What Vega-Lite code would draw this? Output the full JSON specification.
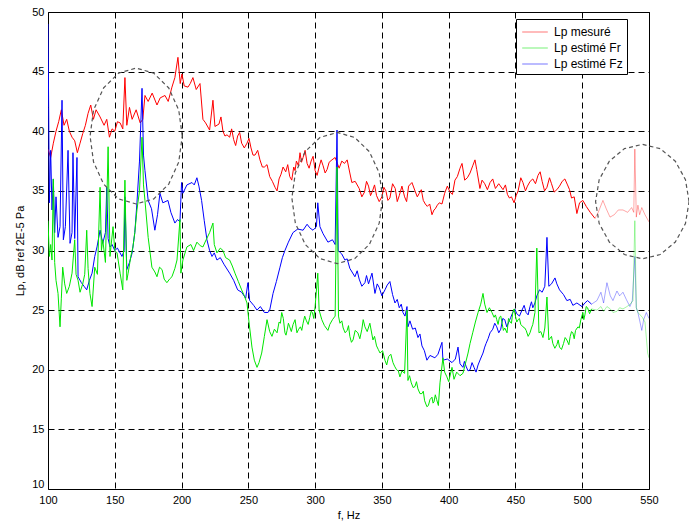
{
"$schema":"https://vega.github.io/schema/vega-lite/v6.json",
"width":601,"height":477,
"autosize":{"type":"none"},
"padding":{"left":48,"top":12,"right":40,"bottom":33},
"datasets":{
"lp":[
{"s":"Lp mesuré","f":100,"v":38.5},{"s":"Lp mesuré","f":102,"v":37.8},{"s":"Lp mesuré","f":104,"v":39},{"s":"Lp mesuré","f":106,"v":40},{"s":"Lp mesuré","f":108,"v":40.8},{"s":"Lp mesuré","f":110,"v":41.8},{"s":"Lp mesuré","f":112,"v":40.5},{"s":"Lp mesuré","f":114,"v":41},{"s":"Lp mesuré","f":116,"v":40},{"s":"Lp mesuré","f":118,"v":39.5},{"s":"Lp mesuré","f":120,"v":39.2},{"s":"Lp mesuré","f":122,"v":38.2},{"s":"Lp mesuré","f":124,"v":39},{"s":"Lp mesuré","f":126,"v":39.8},{"s":"Lp mesuré","f":128,"v":40.5},{"s":"Lp mesuré","f":130,"v":41.5},{"s":"Lp mesuré","f":132,"v":42.2},{"s":"Lp mesuré","f":134,"v":41},{"s":"Lp mesuré","f":136,"v":41.8},{"s":"Lp mesuré","f":139,"v":41.2},{"s":"Lp mesuré","f":142,"v":40.5},{"s":"Lp mesuré","f":144,"v":41},{"s":"Lp mesuré","f":146,"v":39.5},{"s":"Lp mesuré","f":148,"v":40.2},{"s":"Lp mesuré","f":150,"v":40},{"s":"Lp mesuré","f":152,"v":40.8},{"s":"Lp mesuré","f":154,"v":40.7},{"s":"Lp mesuré","f":156,"v":40.2},{"s":"Lp mesuré","f":157.6,"v":44.5},{"s":"Lp mesuré","f":159,"v":40.5},{"s":"Lp mesuré","f":161,"v":42},{"s":"Lp mesuré","f":163,"v":41},{"s":"Lp mesuré","f":166,"v":41.8},{"s":"Lp mesuré","f":169,"v":40.7},{"s":"Lp mesuré","f":171,"v":41},{"s":"Lp mesuré","f":172.6,"v":43},{"s":"Lp mesuré","f":175,"v":42.5},{"s":"Lp mesuré","f":178,"v":43.2},{"s":"Lp mesuré","f":181.6,"v":42.2},{"s":"Lp mesuré","f":184,"v":42.8},{"s":"Lp mesuré","f":187.6,"v":43},{"s":"Lp mesuré","f":190,"v":42.5},{"s":"Lp mesuré","f":192.8,"v":43.7},{"s":"Lp mesuré","f":195,"v":44.5},{"s":"Lp mesuré","f":197.3,"v":46.2},{"s":"Lp mesuré","f":199,"v":44},{"s":"Lp mesuré","f":200.3,"v":44.8},{"s":"Lp mesuré","f":202,"v":43.8},{"s":"Lp mesuré","f":204.8,"v":43.7},{"s":"Lp mesuré","f":206.5,"v":44},{"s":"Lp mesuré","f":208.5,"v":44.5},{"s":"Lp mesuré","f":211,"v":43.5},{"s":"Lp mesuré","f":213.8,"v":44},{"s":"Lp mesuré","f":216,"v":41},{"s":"Lp mesuré","f":218,"v":40.7},{"s":"Lp mesuré","f":221,"v":40.1},{"s":"Lp mesuré","f":223.5,"v":42.6},{"s":"Lp mesuré","f":225,"v":40.4},{"s":"Lp mesuré","f":228,"v":40.6},{"s":"Lp mesuré","f":231,"v":40},{"s":"Lp mesuré","f":234,"v":39.7},{"s":"Lp mesuré","f":236,"v":39.5},{"s":"Lp mesuré","f":239,"v":39.3},{"s":"Lp mesuré","f":242,"v":39.6},{"s":"Lp mesuré","f":245,"v":39},{"s":"Lp mesuré","f":249,"v":39},{"s":"Lp mesuré","f":252,"v":38.6},{"s":"Lp mesuré","f":255,"v":38},{"s":"Lp mesuré","f":258.7,"v":37.6},{"s":"Lp mesuré","f":262,"v":37},{"s":"Lp mesuré","f":266,"v":36.2},{"s":"Lp mesuré","f":268,"v":35.8},{"s":"Lp mesuré","f":270,"v":35.3},{"s":"Lp mesuré","f":273,"v":36},{"s":"Lp mesuré","f":276,"v":37},{"s":"Lp mesuré","f":278,"v":36.6},{"s":"Lp mesuré","f":281,"v":36.2},{"s":"Lp mesuré","f":284,"v":37},{"s":"Lp mesuré","f":286,"v":37.5},{"s":"Lp mesuré","f":288.7,"v":38.2},{"s":"Lp mesuré","f":291,"v":37.8},{"s":"Lp mesuré","f":294,"v":37.3},{"s":"Lp mesuré","f":297,"v":37.5},{"s":"Lp mesuré","f":300,"v":36.7},{"s":"Lp mesuré","f":303,"v":37},{"s":"Lp mesuré","f":306,"v":37.1},{"s":"Lp mesuré","f":309,"v":36.8},{"s":"Lp mesuré","f":312.6,"v":37.6},{"s":"Lp mesuré","f":315,"v":37.8},{"s":"Lp mesuré","f":318,"v":36.9},{"s":"Lp mesuré","f":320,"v":37.5},{"s":"Lp mesuré","f":322,"v":37.3},{"s":"Lp mesuré","f":324,"v":37.6},{"s":"Lp mesuré","f":326,"v":36.5},{"s":"Lp mesuré","f":327.5,"v":35.7},{"s":"Lp mesuré","f":330,"v":35.8},{"s":"Lp mesuré","f":333,"v":35.2},{"s":"Lp mesuré","f":337,"v":34.9},{"s":"Lp mesuré","f":340,"v":35.4},{"s":"Lp mesuré","f":343,"v":35},{"s":"Lp mesuré","f":346,"v":34.6},{"s":"Lp mesuré","f":350,"v":34.5},{"s":"Lp mesuré","f":353,"v":35},{"s":"Lp mesuré","f":356,"v":34.4},{"s":"Lp mesuré","f":360,"v":35.2},{"s":"Lp mesuré","f":363,"v":34.6},{"s":"Lp mesuré","f":367,"v":34.5},{"s":"Lp mesuré","f":370,"v":35.4},{"s":"Lp mesuré","f":374.8,"v":35},{"s":"Lp mesuré","f":378,"v":34.8},{"s":"Lp mesuré","f":381,"v":34.2},{"s":"Lp mesuré","f":384,"v":33.7},{"s":"Lp mesuré","f":387.5,"v":33},{"s":"Lp mesuré","f":390,"v":33.5},{"s":"Lp mesuré","f":393,"v":34},{"s":"Lp mesuré","f":397,"v":34.8},{"s":"Lp mesuré","f":401,"v":34.9},{"s":"Lp mesuré","f":404.7,"v":35.9},{"s":"Lp mesuré","f":408.5,"v":36.9},{"s":"Lp mesuré","f":412,"v":35.9},{"s":"Lp mesuré","f":416,"v":36.5},{"s":"Lp mesuré","f":419.7,"v":37.6},{"s":"Lp mesuré","f":421,"v":36.8},{"s":"Lp mesuré","f":423.4,"v":35.2},{"s":"Lp mesuré","f":427,"v":35.6},{"s":"Lp mesuré","f":431,"v":35.7},{"s":"Lp mesuré","f":435,"v":35.2},{"s":"Lp mesuré","f":440.7,"v":35.1},{"s":"Lp mesuré","f":444,"v":34.7},{"s":"Lp mesuré","f":447,"v":34.5},{"s":"Lp mesuré","f":449,"v":34},{"s":"Lp mesuré","f":452,"v":35},{"s":"Lp mesuré","f":455.6,"v":35.7},{"s":"Lp mesuré","f":459,"v":35.4},{"s":"Lp mesuré","f":463,"v":36},{"s":"Lp mesuré","f":466.9,"v":36.3},{"s":"Lp mesuré","f":470,"v":35.8},{"s":"Lp mesuré","f":473.6,"v":35.3},{"s":"Lp mesuré","f":477,"v":35.6},{"s":"Lp mesuré","f":481,"v":35.1},{"s":"Lp mesuré","f":485,"v":35.8},{"s":"Lp mesuré","f":489,"v":35.5},{"s":"Lp mesuré","f":492,"v":34.4},{"s":"Lp mesuré","f":494,"v":34.5},{"s":"Lp mesuré","f":496,"v":33.1},{"s":"Lp mesuré","f":498,"v":34},{"s":"Lp mesuré","f":500.5,"v":34.2},{"s":"Lp mesuré","f":503,"v":33.7},{"s":"Lp mesuré","f":506,"v":33.2},{"s":"Lp mesuré","f":509.5,"v":32.7},{"s":"Lp mesuré","f":512,"v":33.2},{"s":"Lp mesuré","f":515.5,"v":34.2},{"s":"Lp mesuré","f":518,"v":33.5},{"s":"Lp mesuré","f":520.8,"v":32.8},{"s":"Lp mesuré","f":524,"v":33},{"s":"Lp mesuré","f":527,"v":33.4},{"s":"Lp mesuré","f":530.5,"v":33.4},{"s":"Lp mesuré","f":534,"v":33.2},{"s":"Lp mesuré","f":537,"v":33.6},{"s":"Lp mesuré","f":538.6,"v":33.2},{"s":"Lp mesuré","f":539.4,"v":38.5},{"s":"Lp mesuré","f":540.5,"v":32.8},{"s":"Lp mesuré","f":541.7,"v":33.8},{"s":"Lp mesuré","f":543,"v":33},{"s":"Lp mesuré","f":544.6,"v":33.6},{"s":"Lp mesuré","f":547,"v":33},{"s":"Lp mesuré","f":550,"v":32.4},
{"s":"Lp mesuré","f":229.5,"v":41.2},{"s":"Lp mesuré","f":232.5,"v":39.6},{"s":"Lp mesuré","f":237.5,"v":40.2},{"s":"Lp mesuré","f":240.5,"v":38.8},{"s":"Lp mesuré","f":243.5,"v":39.9},{"s":"Lp mesuré","f":247,"v":38.6},{"s":"Lp mesuré","f":250.5,"v":39.4},{"s":"Lp mesuré","f":253.5,"v":38},{"s":"Lp mesuré","f":257,"v":38.4},{"s":"Lp mesuré","f":260.5,"v":37},{"s":"Lp mesuré","f":264,"v":37.2},{"s":"Lp mesuré","f":271.5,"v":35},{"s":"Lp mesuré","f":274.5,"v":36.4},{"s":"Lp mesuré","f":279.5,"v":37.2},{"s":"Lp mesuré","f":282.5,"v":35.9},{"s":"Lp mesuré","f":285,"v":36.7},{"s":"Lp mesuré","f":287.5,"v":37.1},{"s":"Lp mesuré","f":289.8,"v":37.4},{"s":"Lp mesuré","f":292.5,"v":38.4},{"s":"Lp mesuré","f":295.5,"v":36.9},{"s":"Lp mesuré","f":298.5,"v":37.9},{"s":"Lp mesuré","f":301.5,"v":36.3},{"s":"Lp mesuré","f":304.5,"v":37.6},{"s":"Lp mesuré","f":307.5,"v":36.5},{"s":"Lp mesuré","f":310.5,"v":37.4},{"s":"Lp mesuré","f":335,"v":34.5},{"s":"Lp mesuré","f":338.5,"v":35.8},{"s":"Lp mesuré","f":341.5,"v":34.6},{"s":"Lp mesuré","f":344.5,"v":35.5},{"s":"Lp mesuré","f":348,"v":34.1},{"s":"Lp mesuré","f":351.5,"v":35.3},{"s":"Lp mesuré","f":354.5,"v":34.2},{"s":"Lp mesuré","f":358,"v":35.6},{"s":"Lp mesuré","f":361.5,"v":34.1},{"s":"Lp mesuré","f":365,"v":35.4},{"s":"Lp mesuré","f":368.5,"v":34.1},{"s":"Lp mesuré","f":372.5,"v":35.7},{"s":"Lp mesuré","f":376.5,"v":34.5},{"s":"Lp mesuré","f":379.5,"v":35.1},{"s":"Lp mesuré","f":382.5,"v":33.9},{"s":"Lp mesuré","f":385.8,"v":33.9},{"s":"Lp mesuré","f":389,"v":33.4},{"s":"Lp mesuré","f":391.5,"v":33.8},{"s":"Lp mesuré","f":395,"v":33.9},{"s":"Lp mesuré","f":399,"v":35.4},{"s":"Lp mesuré","f":402.8,"v":34.7},{"s":"Lp mesuré","f":406.5,"v":36.2},{"s":"Lp mesuré","f":410,"v":37.3},{"s":"Lp mesuré","f":414,"v":36.1},{"s":"Lp mesuré","f":418,"v":37.1},{"s":"Lp mesuré","f":425,"v":35.9},{"s":"Lp mesuré","f":429,"v":35.1},{"s":"Lp mesuré","f":433,"v":36},{"s":"Lp mesuré","f":437.5,"v":35.6},{"s":"Lp mesuré","f":442.5,"v":35.5},{"s":"Lp mesuré","f":445.5,"v":34.4},{"s":"Lp mesuré","f":450.5,"v":34.6},{"s":"Lp mesuré","f":454,"v":36.1},{"s":"Lp mesuré","f":457.5,"v":35},{"s":"Lp mesuré","f":461,"v":35.8},{"s":"Lp mesuré","f":465,"v":35.6},{"s":"Lp mesuré","f":468.5,"v":36.6},{"s":"Lp mesuré","f":471.8,"v":35},{"s":"Lp mesuré","f":475.5,"v":36.1},{"s":"Lp mesuré","f":479,"v":34.9},{"s":"Lp mesuré","f":483,"v":35.4},{"s":"Lp mesuré","f":487,"v":36},{"s":"Lp mesuré","f":490.5,"v":35.1},
{"s":"Lp estimé Fz","f":100,"v":49},{"s":"Lp estimé Fz","f":100.5,"v":42},{"s":"Lp estimé Fz","f":101,"v":34},{"s":"Lp estimé Fz","f":102,"v":38.4},{"s":"Lp estimé Fz","f":103,"v":33.4},{"s":"Lp estimé Fz","f":104,"v":36},{"s":"Lp estimé Fz","f":105,"v":31.5},{"s":"Lp estimé Fz","f":106,"v":34.5},{"s":"Lp estimé Fz","f":107.5,"v":31.1},{"s":"Lp estimé Fz","f":109,"v":32},{"s":"Lp estimé Fz","f":110.5,"v":42.6},{"s":"Lp estimé Fz","f":111.5,"v":30.9},{"s":"Lp estimé Fz","f":113,"v":32},{"s":"Lp estimé Fz","f":115,"v":38.4},{"s":"Lp estimé Fz","f":116.5,"v":30.6},{"s":"Lp estimé Fz","f":118,"v":31.5},{"s":"Lp estimé Fz","f":118.7,"v":38.2},{"s":"Lp estimé Fz","f":120,"v":31},{"s":"Lp estimé Fz","f":121.7,"v":37.8},{"s":"Lp estimé Fz","f":122.5,"v":27.8},{"s":"Lp estimé Fz","f":125,"v":27.3},{"s":"Lp estimé Fz","f":127,"v":27},{"s":"Lp estimé Fz","f":129,"v":26.7},{"s":"Lp estimé Fz","f":131,"v":27.5},{"s":"Lp estimé Fz","f":133,"v":28.1},{"s":"Lp estimé Fz","f":135,"v":29.5},{"s":"Lp estimé Fz","f":136.7,"v":30.3},{"s":"Lp estimé Fz","f":139,"v":31.7},{"s":"Lp estimé Fz","f":141,"v":30.6},{"s":"Lp estimé Fz","f":143,"v":31.5},{"s":"Lp estimé Fz","f":144,"v":35.3},{"s":"Lp estimé Fz","f":145,"v":31},{"s":"Lp estimé Fz","f":146.4,"v":30.3},{"s":"Lp estimé Fz","f":148,"v":30.5},{"s":"Lp estimé Fz","f":150,"v":30},{"s":"Lp estimé Fz","f":152,"v":30.2},{"s":"Lp estimé Fz","f":155.4,"v":29.5},{"s":"Lp estimé Fz","f":157,"v":30},{"s":"Lp estimé Fz","f":157.6,"v":34.5},{"s":"Lp estimé Fz","f":159,"v":28.4},{"s":"Lp estimé Fz","f":161,"v":29},{"s":"Lp estimé Fz","f":163,"v":29.8},{"s":"Lp estimé Fz","f":165,"v":31.5},{"s":"Lp estimé Fz","f":166.6,"v":34},{"s":"Lp estimé Fz","f":168.5,"v":37.5},{"s":"Lp estimé Fz","f":170.4,"v":43.6},{"s":"Lp estimé Fz","f":171.5,"v":38},{"s":"Lp estimé Fz","f":172.6,"v":36.7},{"s":"Lp estimé Fz","f":175,"v":34.2},{"s":"Lp estimé Fz","f":177.5,"v":33.5},{"s":"Lp estimé Fz","f":180,"v":31.7},{"s":"Lp estimé Fz","f":182,"v":33},{"s":"Lp estimé Fz","f":183.8,"v":34.8},{"s":"Lp estimé Fz","f":186,"v":34},{"s":"Lp estimé Fz","f":189.8,"v":34.2},{"s":"Lp estimé Fz","f":192,"v":33.2},{"s":"Lp estimé Fz","f":195,"v":32.3},{"s":"Lp estimé Fz","f":197,"v":32.6},{"s":"Lp estimé Fz","f":198.8,"v":32.4},{"s":"Lp estimé Fz","f":200,"v":35.7},{"s":"Lp estimé Fz","f":201,"v":34.8},{"s":"Lp estimé Fz","f":204,"v":35.5},{"s":"Lp estimé Fz","f":207.8,"v":35.7},{"s":"Lp estimé Fz","f":209.5,"v":35.5},{"s":"Lp estimé Fz","f":211.5,"v":36.1},{"s":"Lp estimé Fz","f":213,"v":35.4},{"s":"Lp estimé Fz","f":215,"v":34.2},{"s":"Lp estimé Fz","f":217,"v":32.5},{"s":"Lp estimé Fz","f":219,"v":30.9},{"s":"Lp estimé Fz","f":221,"v":30},{"s":"Lp estimé Fz","f":222.8,"v":29.5},{"s":"Lp estimé Fz","f":224.5,"v":29.8},{"s":"Lp estimé Fz","f":226.5,"v":29.2},{"s":"Lp estimé Fz","f":229,"v":29.4},{"s":"Lp estimé Fz","f":232,"v":28.8},{"s":"Lp estimé Fz","f":236,"v":28.1},{"s":"Lp estimé Fz","f":239,"v":27.5},{"s":"Lp estimé Fz","f":242,"v":26.7},{"s":"Lp estimé Fz","f":245,"v":26.5},{"s":"Lp estimé Fz","f":248,"v":26},{"s":"Lp estimé Fz","f":249.7,"v":27.3},{"s":"Lp estimé Fz","f":251,"v":25.8},{"s":"Lp estimé Fz","f":254,"v":25.4},{"s":"Lp estimé Fz","f":256.5,"v":25},{"s":"Lp estimé Fz","f":259,"v":25.3},{"s":"Lp estimé Fz","f":262,"v":24.8},{"s":"Lp estimé Fz","f":264.7,"v":24.8},{"s":"Lp estimé Fz","f":266,"v":25},{"s":"Lp estimé Fz","f":268.5,"v":26.4},{"s":"Lp estimé Fz","f":271,"v":27.4},{"s":"Lp estimé Fz","f":273.7,"v":28.6},{"s":"Lp estimé Fz","f":275.5,"v":29.4},{"s":"Lp estimé Fz","f":277.4,"v":30},{"s":"Lp estimé Fz","f":280,"v":30.7},{"s":"Lp estimé Fz","f":283.4,"v":31.5},{"s":"Lp estimé Fz","f":287,"v":31.8},{"s":"Lp estimé Fz","f":291,"v":31.7},{"s":"Lp estimé Fz","f":294,"v":32.2},{"s":"Lp estimé Fz","f":296,"v":31.9},{"s":"Lp estimé Fz","f":298.4,"v":31.7},{"s":"Lp estimé Fz","f":301,"v":32},{"s":"Lp estimé Fz","f":302,"v":34},{"s":"Lp estimé Fz","f":303.6,"v":32},{"s":"Lp estimé Fz","f":306,"v":31.4},{"s":"Lp estimé Fz","f":309.6,"v":30.7},{"s":"Lp estimé Fz","f":313,"v":30.9},{"s":"Lp estimé Fz","f":315,"v":30.5},{"s":"Lp estimé Fz","f":316.4,"v":40.1},{"s":"Lp estimé Fz","f":317.3,"v":30},{"s":"Lp estimé Fz","f":320,"v":29.7},{"s":"Lp estimé Fz","f":322.3,"v":29.2},{"s":"Lp estimé Fz","f":326,"v":28.5},{"s":"Lp estimé Fz","f":329.8,"v":27.8},{"s":"Lp estimé Fz","f":333,"v":27.6},{"s":"Lp estimé Fz","f":337.3,"v":27.3},{"s":"Lp estimé Fz","f":340,"v":27.2},{"s":"Lp estimé Fz","f":342.6,"v":28.1},{"s":"Lp estimé Fz","f":344.8,"v":26.4},{"s":"Lp estimé Fz","f":348,"v":26.9},{"s":"Lp estimé Fz","f":352.3,"v":26.7},{"s":"Lp estimé Fz","f":356,"v":27.4},{"s":"Lp estimé Fz","f":358,"v":26.3},{"s":"Lp estimé Fz","f":359.8,"v":25.6},{"s":"Lp estimé Fz","f":363,"v":25.2},{"s":"Lp estimé Fz","f":365.8,"v":24.8},{"s":"Lp estimé Fz","f":368.8,"v":25.3},{"s":"Lp estimé Fz","f":369.5,"v":23.6},{"s":"Lp estimé Fz","f":373,"v":23.4},{"s":"Lp estimé Fz","f":377,"v":22.7},{"s":"Lp estimé Fz","f":380,"v":22},{"s":"Lp estimé Fz","f":383.7,"v":20.8},{"s":"Lp estimé Fz","f":386,"v":21.2},{"s":"Lp estimé Fz","f":389.7,"v":21},{"s":"Lp estimé Fz","f":392,"v":21.3},{"s":"Lp estimé Fz","f":395,"v":22.3},{"s":"Lp estimé Fz","f":395.7,"v":20.8},{"s":"Lp estimé Fz","f":399,"v":20.9},{"s":"Lp estimé Fz","f":402.5,"v":20.6},{"s":"Lp estimé Fz","f":405,"v":20.9},{"s":"Lp estimé Fz","f":407,"v":21.9},{"s":"Lp estimé Fz","f":408.5,"v":20.5},{"s":"Lp estimé Fz","f":410.7,"v":20.2},{"s":"Lp estimé Fz","f":413,"v":20.3},{"s":"Lp estimé Fz","f":416,"v":20},{"s":"Lp estimé Fz","f":419,"v":20.2},{"s":"Lp estimé Fz","f":422,"v":20.4},{"s":"Lp estimé Fz","f":425.7,"v":21.4},{"s":"Lp estimé Fz","f":428,"v":22.2},{"s":"Lp estimé Fz","f":431,"v":23.1},{"s":"Lp estimé Fz","f":433,"v":23.4},{"s":"Lp estimé Fz","f":436,"v":23.6},{"s":"Lp estimé Fz","f":439,"v":23.4},{"s":"Lp estimé Fz","f":442,"v":24.2},{"s":"Lp estimé Fz","f":445,"v":24},{"s":"Lp estimé Fz","f":448,"v":24.8},{"s":"Lp estimé Fz","f":451,"v":24.7},{"s":"Lp estimé Fz","f":454.9,"v":25},{"s":"Lp estimé Fz","f":458,"v":24.8},{"s":"Lp estimé Fz","f":460.9,"v":25.3},{"s":"Lp estimé Fz","f":463,"v":25.2},{"s":"Lp estimé Fz","f":464.6,"v":25.6},{"s":"Lp estimé Fz","f":466,"v":26.2},{"s":"Lp estimé Fz","f":468,"v":26.7},{"s":"Lp estimé Fz","f":470,"v":26.5},{"s":"Lp estimé Fz","f":472,"v":27},{"s":"Lp estimé Fz","f":473.6,"v":31.1},{"s":"Lp estimé Fz","f":475,"v":27},{"s":"Lp estimé Fz","f":477,"v":27.2},{"s":"Lp estimé Fz","f":479.6,"v":27.7},{"s":"Lp estimé Fz","f":481,"v":27.2},{"s":"Lp estimé Fz","f":483,"v":26.7},{"s":"Lp estimé Fz","f":486,"v":26.3},{"s":"Lp estimé Fz","f":488.5,"v":25.8},{"s":"Lp estimé Fz","f":491,"v":25.9},{"s":"Lp estimé Fz","f":493,"v":25.4},{"s":"Lp estimé Fz","f":496,"v":25.6},{"s":"Lp estimé Fz","f":499.8,"v":25.3},{"s":"Lp estimé Fz","f":502,"v":25.6},{"s":"Lp estimé Fz","f":504,"v":25.8},{"s":"Lp estimé Fz","f":507,"v":25.5},{"s":"Lp estimé Fz","f":511,"v":25.8},{"s":"Lp estimé Fz","f":514,"v":26.5},{"s":"Lp estimé Fz","f":516,"v":25.6},{"s":"Lp estimé Fz","f":518.5,"v":27.3},{"s":"Lp estimé Fz","f":521,"v":26.2},{"s":"Lp estimé Fz","f":523,"v":25.8},{"s":"Lp estimé Fz","f":526,"v":26.6},{"s":"Lp estimé Fz","f":528,"v":26.2},{"s":"Lp estimé Fz","f":530.5,"v":26.5},{"s":"Lp estimé Fz","f":533,"v":25.9},{"s":"Lp estimé Fz","f":535.7,"v":25.3},{"s":"Lp estimé Fz","f":537.5,"v":25.8},{"s":"Lp estimé Fz","f":539.4,"v":29.5},{"s":"Lp estimé Fz","f":540.5,"v":25.2},{"s":"Lp estimé Fz","f":541.7,"v":24.8},{"s":"Lp estimé Fz","f":544.6,"v":23.3},{"s":"Lp estimé Fz","f":546,"v":24.2},{"s":"Lp estimé Fz","f":548,"v":24.8},{"s":"Lp estimé Fz","f":550,"v":24.3},
{"s":"Lp estimé Fz","f":324,"v":29.3},{"s":"Lp estimé Fz","f":331.5,"v":28.3},{"s":"Lp estimé Fz","f":335,"v":27},{"s":"Lp estimé Fz","f":338.5,"v":27.9},{"s":"Lp estimé Fz","f":346.5,"v":27.2},{"s":"Lp estimé Fz","f":350,"v":26.2},{"s":"Lp estimé Fz","f":354,"v":27.1},{"s":"Lp estimé Fz","f":361.5,"v":25.9},{"s":"Lp estimé Fz","f":364.5,"v":25.5},{"s":"Lp estimé Fz","f":367.3,"v":24.5},{"s":"Lp estimé Fz","f":371,"v":24.1},{"s":"Lp estimé Fz","f":375,"v":23.5},{"s":"Lp estimé Fz","f":378.5,"v":23},{"s":"Lp estimé Fz","f":381.8,"v":21.6},{"s":"Lp estimé Fz","f":411.8,"v":20.7},{"s":"Lp estimé Fz","f":414.5,"v":19.9},{"s":"Lp estimé Fz","f":417.5,"v":20.6},{"s":"Lp estimé Fz","f":420.5,"v":19.8},{"s":"Lp estimé Fz","f":423.8,"v":20.9},{"s":"Lp estimé Fz","f":427,"v":21.9},{"s":"Lp estimé Fz","f":429.5,"v":22.6},{"s":"Lp estimé Fz","f":434.5,"v":23.9},{"s":"Lp estimé Fz","f":437.5,"v":23.1},{"s":"Lp estimé Fz","f":440.5,"v":24.3},{"s":"Lp estimé Fz","f":443.5,"v":23.6},{"s":"Lp estimé Fz","f":446.5,"v":24.4},{"s":"Lp estimé Fz","f":449.5,"v":25.1},{"s":"Lp estimé Fz","f":453,"v":24.5},{"s":"Lp estimé Fz","f":456.5,"v":25.4},{"s":"Lp estimé Fz","f":459.5,"v":24.6},{"s":"Lp estimé Fz","f":462,"v":25.7},
{"s":"Lp estimé Fr","f":100,"v":32.5},{"s":"Lp estimé Fr","f":101,"v":29.5},{"s":"Lp estimé Fr","f":102,"v":30.5},{"s":"Lp estimé Fr","f":103,"v":29.2},{"s":"Lp estimé Fr","f":104,"v":36},{"s":"Lp estimé Fr","f":105,"v":29},{"s":"Lp estimé Fr","f":106,"v":27.5},{"s":"Lp estimé Fr","f":107.5,"v":26.4},{"s":"Lp estimé Fr","f":109,"v":23.6},{"s":"Lp estimé Fr","f":110,"v":26},{"s":"Lp estimé Fr","f":111,"v":28.6},{"s":"Lp estimé Fr","f":112.5,"v":27.2},{"s":"Lp estimé Fr","f":114,"v":26.4},{"s":"Lp estimé Fr","f":116,"v":27},{"s":"Lp estimé Fr","f":118,"v":28.1},{"s":"Lp estimé Fr","f":120,"v":30.9},{"s":"Lp estimé Fr","f":121,"v":28},{"s":"Lp estimé Fr","f":122.5,"v":27.5},{"s":"Lp estimé Fr","f":124,"v":26.5},{"s":"Lp estimé Fr","f":126,"v":27.2},{"s":"Lp estimé Fr","f":127.5,"v":28},{"s":"Lp estimé Fr","f":129,"v":31.7},{"s":"Lp estimé Fr","f":130,"v":28.5},{"s":"Lp estimé Fr","f":131.4,"v":26.4},{"s":"Lp estimé Fr","f":133,"v":25.3},{"s":"Lp estimé Fr","f":135,"v":28.6},{"s":"Lp estimé Fr","f":137,"v":28},{"s":"Lp estimé Fr","f":139,"v":35.3},{"s":"Lp estimé Fr","f":140,"v":30},{"s":"Lp estimé Fr","f":141,"v":30.9},{"s":"Lp estimé Fr","f":143,"v":29},{"s":"Lp estimé Fr","f":145,"v":38.7},{"s":"Lp estimé Fr","f":146.4,"v":29.5},{"s":"Lp estimé Fr","f":148.7,"v":32},{"s":"Lp estimé Fr","f":150,"v":30},{"s":"Lp estimé Fr","f":151.7,"v":29.8},{"s":"Lp estimé Fr","f":154,"v":28.1},{"s":"Lp estimé Fr","f":156,"v":26.7},{"s":"Lp estimé Fr","f":157.6,"v":35.9},{"s":"Lp estimé Fr","f":159,"v":27.5},{"s":"Lp estimé Fr","f":160,"v":28.1},{"s":"Lp estimé Fr","f":162,"v":29.5},{"s":"Lp estimé Fr","f":163.6,"v":30.3},{"s":"Lp estimé Fr","f":165,"v":31.5},{"s":"Lp estimé Fr","f":166.6,"v":33.4},{"s":"Lp estimé Fr","f":168.5,"v":35},{"s":"Lp estimé Fr","f":170.4,"v":39.5},{"s":"Lp estimé Fr","f":171.5,"v":35.5},{"s":"Lp estimé Fr","f":172.6,"v":34.2},{"s":"Lp estimé Fr","f":175,"v":31.1},{"s":"Lp estimé Fr","f":177.8,"v":28.6},{"s":"Lp estimé Fr","f":180,"v":28.2},{"s":"Lp estimé Fr","f":181.6,"v":27.8},{"s":"Lp estimé Fr","f":183.5,"v":28.6},{"s":"Lp estimé Fr","f":185.4,"v":28.4},{"s":"Lp estimé Fr","f":187,"v":27.6},{"s":"Lp estimé Fr","f":189,"v":27.3},{"s":"Lp estimé Fr","f":191,"v":27.6},{"s":"Lp estimé Fr","f":192.8,"v":27.8},{"s":"Lp estimé Fr","f":195,"v":28.5},{"s":"Lp estimé Fr","f":196.6,"v":29.2},{"s":"Lp estimé Fr","f":198.8,"v":32.6},{"s":"Lp estimé Fr","f":199.5,"v":28.1},{"s":"Lp estimé Fr","f":201,"v":29.2},{"s":"Lp estimé Fr","f":204,"v":30.3},{"s":"Lp estimé Fr","f":207,"v":30.5},{"s":"Lp estimé Fr","f":209,"v":30},{"s":"Lp estimé Fr","f":211.5,"v":30.7},{"s":"Lp estimé Fr","f":214,"v":30.4},{"s":"Lp estimé Fr","f":216,"v":30.3},{"s":"Lp estimé Fr","f":218,"v":30.8},{"s":"Lp estimé Fr","f":221,"v":31.5},{"s":"Lp estimé Fr","f":223.5,"v":32.3},{"s":"Lp estimé Fr","f":224.5,"v":30.5},{"s":"Lp estimé Fr","f":226.5,"v":29.8},{"s":"Lp estimé Fr","f":229,"v":30.2},{"s":"Lp estimé Fr","f":231,"v":30},{"s":"Lp estimé Fr","f":233,"v":29.4},{"s":"Lp estimé Fr","f":236,"v":29.2},{"s":"Lp estimé Fr","f":238,"v":28.7},{"s":"Lp estimé Fr","f":240,"v":28.1},{"s":"Lp estimé Fr","f":242.5,"v":27.4},{"s":"Lp estimé Fr","f":245,"v":26.7},{"s":"Lp estimé Fr","f":247,"v":26.2},{"s":"Lp estimé Fr","f":249,"v":25.6},{"s":"Lp estimé Fr","f":250.5,"v":24},{"s":"Lp estimé Fr","f":252.7,"v":21.9},{"s":"Lp estimé Fr","f":254.5,"v":20.8},{"s":"Lp estimé Fr","f":256.5,"v":20.2},{"s":"Lp estimé Fr","f":258,"v":20.6},{"s":"Lp estimé Fr","f":260,"v":21.4},{"s":"Lp estimé Fr","f":262,"v":22.8},{"s":"Lp estimé Fr","f":264,"v":24.2},{"s":"Lp estimé Fr","f":266,"v":23.2},{"s":"Lp estimé Fr","f":267.7,"v":22.8},{"s":"Lp estimé Fr","f":269.5,"v":23.4},{"s":"Lp estimé Fr","f":271.5,"v":23.1},{"s":"Lp estimé Fr","f":273,"v":24},{"s":"Lp estimé Fr","f":275,"v":24.8},{"s":"Lp estimé Fr","f":277.4,"v":23.1},{"s":"Lp estimé Fr","f":279,"v":23.3},{"s":"Lp estimé Fr","f":281,"v":23.6},{"s":"Lp estimé Fr","f":283.5,"v":23.8},{"s":"Lp estimé Fr","f":286.4,"v":23.1},{"s":"Lp estimé Fr","f":289,"v":23.6},{"s":"Lp estimé Fr","f":291,"v":23.9},{"s":"Lp estimé Fr","f":293.5,"v":24.1},{"s":"Lp estimé Fr","f":296,"v":24.4},{"s":"Lp estimé Fr","f":298,"v":24.8},{"s":"Lp estimé Fr","f":300,"v":25.3},{"s":"Lp estimé Fr","f":302,"v":28.1},{"s":"Lp estimé Fr","f":303,"v":25},{"s":"Lp estimé Fr","f":305,"v":24.2},{"s":"Lp estimé Fr","f":307,"v":23.7},{"s":"Lp estimé Fr","f":309.6,"v":23.3},{"s":"Lp estimé Fr","f":311,"v":23.8},{"s":"Lp estimé Fr","f":313,"v":24.2},{"s":"Lp estimé Fr","f":315,"v":24.5},{"s":"Lp estimé Fr","f":316.4,"v":37},{"s":"Lp estimé Fr","f":317.5,"v":24.5},{"s":"Lp estimé Fr","f":318.6,"v":23.9},{"s":"Lp estimé Fr","f":321,"v":23.5},{"s":"Lp estimé Fr","f":324,"v":23.3},{"s":"Lp estimé Fr","f":326,"v":22.8},{"s":"Lp estimé Fr","f":328.4,"v":22.5},{"s":"Lp estimé Fr","f":332,"v":23.1},{"s":"Lp estimé Fr","f":335,"v":23.4},{"s":"Lp estimé Fr","f":337.3,"v":23.6},{"s":"Lp estimé Fr","f":339,"v":23.2},{"s":"Lp estimé Fr","f":341,"v":23.9},{"s":"Lp estimé Fr","f":343.3,"v":22.5},{"s":"Lp estimé Fr","f":346,"v":22},{"s":"Lp estimé Fr","f":348.6,"v":21.4},{"s":"Lp estimé Fr","f":352.3,"v":20.8},{"s":"Lp estimé Fr","f":355,"v":21.1},{"s":"Lp estimé Fr","f":358.3,"v":20.6},{"s":"Lp estimé Fr","f":361,"v":20},{"s":"Lp estimé Fr","f":363.5,"v":19.4},{"s":"Lp estimé Fr","f":365,"v":19.9},{"s":"Lp estimé Fr","f":367,"v":19.7},{"s":"Lp estimé Fr","f":368.8,"v":25},{"s":"Lp estimé Fr","f":369.5,"v":19.1},{"s":"Lp estimé Fr","f":372,"v":18.9},{"s":"Lp estimé Fr","f":374.8,"v":18.6},{"s":"Lp estimé Fr","f":377,"v":18.4},{"s":"Lp estimé Fr","f":380,"v":18},{"s":"Lp estimé Fr","f":382,"v":17.4},{"s":"Lp estimé Fr","f":383.7,"v":16.9},{"s":"Lp estimé Fr","f":386,"v":17.5},{"s":"Lp estimé Fr","f":387.5,"v":17.7},{"s":"Lp estimé Fr","f":389,"v":17.3},{"s":"Lp estimé Fr","f":391,"v":17.5},{"s":"Lp estimé Fr","f":393.5,"v":18.9},{"s":"Lp estimé Fr","f":395.7,"v":21},{"s":"Lp estimé Fr","f":397,"v":19.8},{"s":"Lp estimé Fr","f":398.7,"v":19.4},{"s":"Lp estimé Fr","f":400,"v":19},{"s":"Lp estimé Fr","f":402.5,"v":20.2},{"s":"Lp estimé Fr","f":404,"v":19.2},{"s":"Lp estimé Fr","f":406,"v":19.8},{"s":"Lp estimé Fr","f":408.5,"v":19.5},{"s":"Lp estimé Fr","f":410.7,"v":19.7},{"s":"Lp estimé Fr","f":412.5,"v":20.5},{"s":"Lp estimé Fr","f":414.5,"v":21.4},{"s":"Lp estimé Fr","f":416,"v":22.2},{"s":"Lp estimé Fr","f":418,"v":23.1},{"s":"Lp estimé Fr","f":420,"v":24},{"s":"Lp estimé Fr","f":422,"v":24.8},{"s":"Lp estimé Fr","f":424,"v":25.5},{"s":"Lp estimé Fr","f":425.7,"v":26.4},{"s":"Lp estimé Fr","f":427,"v":25.5},{"s":"Lp estimé Fr","f":428.7,"v":24.8},{"s":"Lp estimé Fr","f":430.5,"v":25.2},{"s":"Lp estimé Fr","f":432.4,"v":24.8},{"s":"Lp estimé Fr","f":434,"v":24.4},{"s":"Lp estimé Fr","f":436,"v":24.2},{"s":"Lp estimé Fr","f":438,"v":24.4},{"s":"Lp estimé Fr","f":440,"v":23.9},{"s":"Lp estimé Fr","f":442,"v":23.5},{"s":"Lp estimé Fr","f":443.7,"v":23.1},{"s":"Lp estimé Fr","f":446,"v":24},{"s":"Lp estimé Fr","f":448,"v":24.8},{"s":"Lp estimé Fr","f":450,"v":24.5},{"s":"Lp estimé Fr","f":452,"v":24.2},{"s":"Lp estimé Fr","f":454,"v":23.8},{"s":"Lp estimé Fr","f":455.6,"v":23.6},{"s":"Lp estimé Fr","f":458,"v":23.3},{"s":"Lp estimé Fr","f":460.9,"v":23.1},{"s":"Lp estimé Fr","f":463,"v":23.8},{"s":"Lp estimé Fr","f":464.6,"v":24.8},{"s":"Lp estimé Fr","f":466,"v":30.2},{"s":"Lp estimé Fr","f":467.6,"v":23.1},{"s":"Lp estimé Fr","f":469,"v":23.2},{"s":"Lp estimé Fr","f":470.6,"v":22.7},{"s":"Lp estimé Fr","f":472,"v":23.5},{"s":"Lp estimé Fr","f":473.6,"v":26.1},{"s":"Lp estimé Fr","f":475,"v":22.5},{"s":"Lp estimé Fr","f":478,"v":22.2},{"s":"Lp estimé Fr","f":481,"v":22.1},{"s":"Lp estimé Fr","f":483,"v":21.9},{"s":"Lp estimé Fr","f":486,"v":22.2},{"s":"Lp estimé Fr","f":488.5,"v":22.5},{"s":"Lp estimé Fr","f":491,"v":22.8},{"s":"Lp estimé Fr","f":493,"v":23.1},{"s":"Lp estimé Fr","f":495,"v":23.3},{"s":"Lp estimé Fr","f":496.8,"v":23.6},{"s":"Lp estimé Fr","f":499,"v":24.2},{"s":"Lp estimé Fr","f":500.5,"v":24.8},{"s":"Lp estimé Fr","f":502,"v":24.6},{"s":"Lp estimé Fr","f":504,"v":25.2},{"s":"Lp estimé Fr","f":507,"v":25.1},{"s":"Lp estimé Fr","f":511,"v":25},{"s":"Lp estimé Fr","f":514,"v":25.3},{"s":"Lp estimé Fr","f":516,"v":24.9},{"s":"Lp estimé Fr","f":518.5,"v":25.3},{"s":"Lp estimé Fr","f":521,"v":25.1},{"s":"Lp estimé Fr","f":523,"v":24.8},{"s":"Lp estimé Fr","f":526,"v":24.9},{"s":"Lp estimé Fr","f":528,"v":25.2},{"s":"Lp estimé Fr","f":530.5,"v":25.1},{"s":"Lp estimé Fr","f":533.5,"v":25.3},{"s":"Lp estimé Fr","f":536,"v":25.5},{"s":"Lp estimé Fr","f":538,"v":25.8},{"s":"Lp estimé Fr","f":539.4,"v":32.5},{"s":"Lp estimé Fr","f":540.5,"v":25.2},{"s":"Lp estimé Fr","f":541.7,"v":24.8},{"s":"Lp estimé Fr","f":545,"v":24.4},{"s":"Lp estimé Fr","f":547,"v":24},{"s":"Lp estimé Fr","f":549,"v":21.4},{"s":"Lp estimé Fr","f":550,"v":21},
{"s":"Lp estimé Fr","f":274,"v":23.9},{"s":"Lp estimé Fr","f":276.2,"v":24.3},{"s":"Lp estimé Fr","f":278.2,"v":22.9},{"s":"Lp estimé Fr","f":280,"v":23.9},{"s":"Lp estimé Fr","f":282.2,"v":23.2},{"s":"Lp estimé Fr","f":285,"v":24.2},{"s":"Lp estimé Fr","f":287.7,"v":23.4},{"s":"Lp estimé Fr","f":290,"v":23.3},{"s":"Lp estimé Fr","f":292.2,"v":24.5},{"s":"Lp estimé Fr","f":294.8,"v":23.8},{"s":"Lp estimé Fr","f":297,"v":24.9},{"s":"Lp estimé Fr","f":299,"v":24.3},{"s":"Lp estimé Fr","f":320,"v":24.1},{"s":"Lp estimé Fr","f":322.5,"v":23.1},{"s":"Lp estimé Fr","f":325,"v":23.7},{"s":"Lp estimé Fr","f":327.2,"v":22.3},{"s":"Lp estimé Fr","f":330,"v":23.3},{"s":"Lp estimé Fr","f":333.5,"v":22.6},{"s":"Lp estimé Fr","f":336,"v":24.2},{"s":"Lp estimé Fr","f":344.5,"v":22.8},{"s":"Lp estimé Fr","f":347.3,"v":21.7},{"s":"Lp estimé Fr","f":350.5,"v":21.6},{"s":"Lp estimé Fr","f":353.6,"v":20.4},{"s":"Lp estimé Fr","f":356.7,"v":21.3},{"s":"Lp estimé Fr","f":359.5,"v":20.3},{"s":"Lp estimé Fr","f":362.3,"v":19.9},{"s":"Lp estimé Fr","f":370.7,"v":19.5},{"s":"Lp estimé Fr","f":373.4,"v":18.5},{"s":"Lp estimé Fr","f":375.9,"v":19},{"s":"Lp estimé Fr","f":378.5,"v":18},{"s":"Lp estimé Fr","f":381,"v":18.2},{"s":"Lp estimé Fr","f":384.8,"v":17},{"s":"Lp estimé Fr","f":388.3,"v":17.2},{"s":"Lp estimé Fr","f":390,"v":17.9},{"s":"Lp estimé Fr","f":392.3,"v":17},{"s":"Lp estimé Fr","f":435,"v":24.6},{"s":"Lp estimé Fr","f":437,"v":23.8},{"s":"Lp estimé Fr","f":439,"v":24.5},{"s":"Lp estimé Fr","f":441,"v":23.3},{"s":"Lp estimé Fr","f":444.8,"v":24.3},{"s":"Lp estimé Fr","f":447,"v":23.9},{"s":"Lp estimé Fr","f":449,"v":25.1},{"s":"Lp estimé Fr","f":451,"v":24},{"s":"Lp estimé Fr","f":453,"v":24.3},{"s":"Lp estimé Fr","f":457,"v":23.5},{"s":"Lp estimé Fr","f":459.5,"v":22.8},{"s":"Lp estimé Fr","f":462,"v":23.5},{"s":"Lp estimé Fr","f":477,"v":22.8},{"s":"Lp estimé Fr","f":479.5,"v":21.8},{"s":"Lp estimé Fr","f":482,"v":22.5},{"s":"Lp estimé Fr","f":484.5,"v":21.7},{"s":"Lp estimé Fr","f":487.2,"v":22.7},{"s":"Lp estimé Fr","f":490,"v":22.1},{"s":"Lp estimé Fr","f":492,"v":23.2},{"s":"Lp estimé Fr","f":494,"v":22.6},{"s":"Lp estimé Fr","f":497.8,"v":23.5},{"s":"Lp estimé Fr","f":501.2,"v":24.2},{"s":"Lp estimé Fr","f":503,"v":25.3},{"s":"Lp estimé Fr","f":505.5,"v":24.7}
],
"ell":[
{"c":1,"k":0,"f":200.5,"v":39.6},{"c":1,"k":1,"f":197.9,"v":41.78},{"c":1,"k":2,"f":190.4,"v":43.63},{"c":1,"k":3,"f":179.2,"v":44.87},{"c":1,"k":4,"f":166,"v":45.3},{"c":1,"k":5,"f":152.8,"v":44.87},{"c":1,"k":6,"f":141.6,"v":43.63},{"c":1,"k":7,"f":134.1,"v":41.78},{"c":1,"k":8,"f":131.5,"v":39.6},{"c":1,"k":9,"f":134.1,"v":37.42},{"c":1,"k":10,"f":141.6,"v":35.57},{"c":1,"k":11,"f":152.8,"v":34.33},{"c":1,"k":12,"f":166,"v":33.9},{"c":1,"k":13,"f":179.2,"v":34.33},{"c":1,"k":14,"f":190.4,"v":35.57},{"c":1,"k":15,"f":197.9,"v":37.42},{"c":1,"k":16,"f":200.5,"v":39.6},
{"c":2,"k":0,"f":350.6,"v":34.4},{"c":2,"k":1,"f":348,"v":36.51},{"c":2,"k":2,"f":340.6,"v":38.29},{"c":2,"k":3,"f":329.6,"v":39.48},{"c":2,"k":4,"f":316.6,"v":39.9},{"c":2,"k":5,"f":303.6,"v":39.48},{"c":2,"k":6,"f":292.6,"v":38.29},{"c":2,"k":7,"f":285.2,"v":36.51},{"c":2,"k":8,"f":282.6,"v":34.4},{"c":2,"k":9,"f":285.2,"v":32.29},{"c":2,"k":10,"f":292.6,"v":30.51},{"c":2,"k":11,"f":303.6,"v":29.32},{"c":2,"k":12,"f":316.6,"v":28.9},{"c":2,"k":13,"f":329.6,"v":29.32},{"c":2,"k":14,"f":340.6,"v":30.51},{"c":2,"k":15,"f":348,"v":32.29},{"c":2,"k":16,"f":350.6,"v":34.4},
{"c":3,"k":0,"f":580,"v":34.1},{"c":3,"k":1,"f":577.3,"v":35.94},{"c":3,"k":2,"f":569.7,"v":37.49},{"c":3,"k":3,"f":558.4,"v":38.54},{"c":3,"k":4,"f":545,"v":38.9},{"c":3,"k":5,"f":531.6,"v":38.54},{"c":3,"k":6,"f":520.3,"v":37.49},{"c":3,"k":7,"f":512.7,"v":35.94},{"c":3,"k":8,"f":510,"v":34.1},{"c":3,"k":9,"f":512.7,"v":32.26},{"c":3,"k":10,"f":520.3,"v":30.71},{"c":3,"k":11,"f":531.6,"v":29.66},{"c":3,"k":12,"f":545,"v":29.3},{"c":3,"k":13,"f":558.4,"v":29.66},{"c":3,"k":14,"f":569.7,"v":30.71},{"c":3,"k":15,"f":577.3,"v":32.26},{"c":3,"k":16,"f":580,"v":34.1}
]
},
"layer":[
{"data":{"name":"lp"},
 "transform":[{"filter":"datum.f <= 510"}],
 "mark":{"type":"line","strokeWidth":1,"clip":true},
 "encoding":{
  "x":{"field":"f","type":"quantitative","scale":{"domain":[100,550],"nice":false,"zero":false},
       "axis":{"title":"f, Hz","values":[100,150,200,250,300,350,400,450,500,550]}},
  "y":{"field":"v","type":"quantitative","scale":{"domain":[10,50],"nice":false,"zero":false},
       "axis":{"title":"Lp, dB ref 2E-5 Pa","values":[10,15,20,25,30,35,40,45,50],
               "labelOffset":{"condition":{"test":"datum.value == 10","value":-5},"value":0}}},
  "color":{"field":"s","type":"nominal",
    "scale":{"domain":["Lp mesuré","Lp estimé Fr","Lp estimé Fz"],"range":["#ff0000","#00e600","#0000ff"]},
    "legend":{"title":null,"orient":"none","legendX":468,"legendY":7,"symbolType":"M-1.6,0L1.6,0","symbolSize":256,"symbolStrokeWidth":1.5,
      "symbolOffset":6,"labelOffset":10,
      "labelFontSize":12,"labelFont":"Liberation Sans Narrow, Liberation Sans","labelColor":"#000","strokeColor":"#000","fillColor":"#fff","padding":4,"rowPadding":1}}
 }},
{"data":{"name":"lp"},
 "transform":[{"filter":"datum.f >= 507"}],
 "mark":{"type":"line","strokeWidth":1,"opacity":0.35,"clip":true},
 "encoding":{
  "x":{"field":"f","type":"quantitative"},
  "y":{"field":"v","type":"quantitative"},
  "color":{"field":"s","type":"nominal"}
 }},
{"data":{"name":"ell"},
 "mark":{"type":"line","stroke":"#555","strokeWidth":1.2,"strokeDash":[4,3],"clip":false},
 "encoding":{
  "x":{"field":"f","type":"quantitative"},
  "y":{"field":"v","type":"quantitative"},
  "detail":{"field":"c","type":"nominal"},
  "order":{"field":"k","type":"quantitative"}
 }}
],
"config":{
 "view":{"stroke":"#000","strokeWidth":1},
 "font":"Liberation Sans Narrow, Liberation Sans",
 "axis":{"grid":true,"gridColor":"#000","gridDash":[6,4],"gridOpacity":1,"gridWidth":1,
   "domain":false,"ticks":false,"labelFlush":false,"labelOverlap":false,"labelFontSize":11,"labelColor":"#000","labelFont":"Liberation Sans Narrow, Liberation Sans",
   "titleFontSize":11,"titleFontWeight":"normal","titleColor":"#000","titleFont":"Liberation Sans Narrow, Liberation Sans"},
 "axisX":{"labelPadding":5,"titlePadding":4},
 "axisY":{"labelPadding":4,"titlePadding":6}
}
}
